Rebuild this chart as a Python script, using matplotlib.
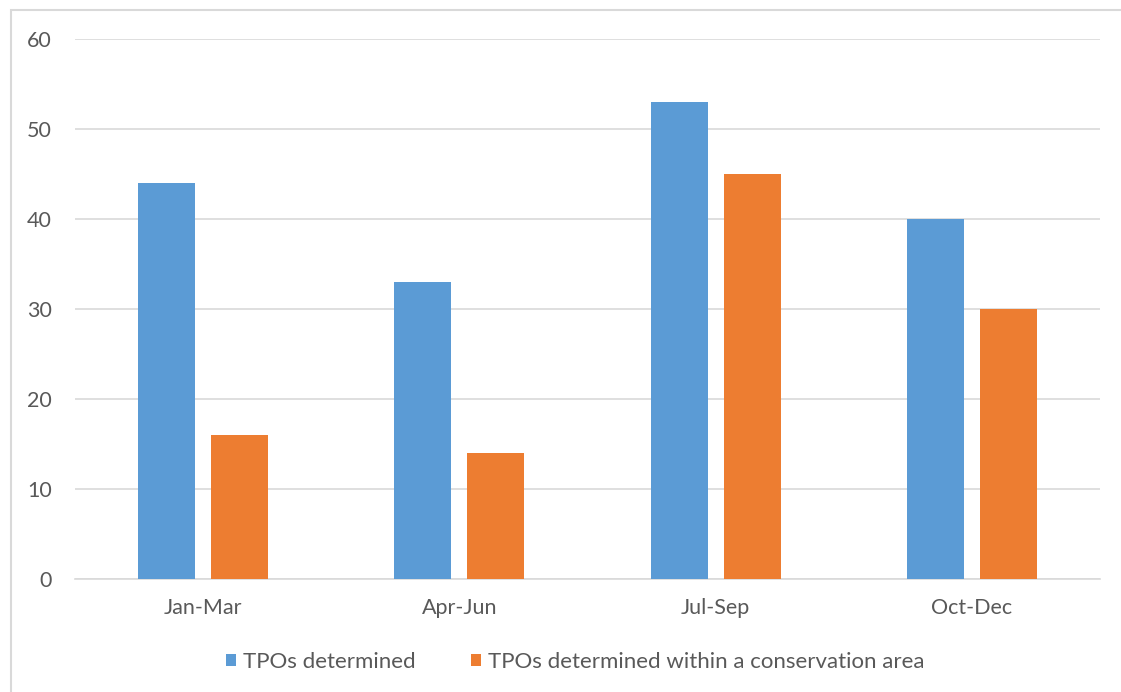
import matplotlib
matplotlib.use("Agg")
import matplotlib.pyplot as plt
from matplotlib.patches import Rectangle
import numpy as np

quarters = ["Jan-Mar", "Apr-Jun", "Jul-Sep", "Oct-Dec"]
tpos_determined = [44, 33, 53, 40]
tpos_conservation = [16, 14, 45, 30]
series_names = ["TPOs determined", "TPOs determined within a conservation area"]
y_ticks = [0, 10, 20, 30, 40, 50, 60]

BLUE = "#5B9BD5"
ORANGE = "#ED7D31"
TEXT = "#595959"
GRID = "#D9D9D9"

plt.rcParams["font.family"] = ["Lato", "DejaVu Sans"]

W, H = 1121, 692
fig = plt.figure(figsize=(W / 100, H / 100), dpi=100)
fig.patch.set_facecolor("white")

# outer chart frame
fig.patches.append(Rectangle((11 / W, -0.05), 1.1, 1 - 9.5 / H + 0.05,
                             transform=fig.transFigure, fill=False,
                             edgecolor=GRID, linewidth=1.5))

ax = fig.add_axes([75 / W, 1 - 579 / H, (1100 - 75) / W, (579 - 39) / H])

x = np.arange(len(quarters))
bw = 0.222
gap = 0.0625
ax.bar(x - (bw + gap) / 2, tpos_determined, bw, color=BLUE, label=series_names[0], zorder=3)
ax.bar(x + (bw + gap) / 2, tpos_conservation, bw, color=ORANGE, label=series_names[1], zorder=3)

ax.set_xlim(-0.5, len(quarters) - 0.5)
ax.set_ylim(0, 60)
ax.set_yticks(y_ticks)
ax.set_xticks(x)
ax.set_xticklabels(quarters)
ax.yaxis.grid(True, color=GRID, linewidth=1.2, zorder=0)
ax.set_axisbelow(True)
for s in ["top", "right", "left"]:
    ax.spines[s].set_visible(False)
ax.spines["bottom"].set_color(GRID)
ax.spines["bottom"].set_linewidth(1.2)
ax.tick_params(axis="both", length=0, labelsize=15.5, colors=TEXT)
ax.tick_params(axis="y", pad=16.5)
ax.tick_params(axis="x", pad=14)

leg = fig.legend(loc="center", bbox_to_anchor=(575 / W, 1 - 662 / H),
                 ncol=2, frameon=False, fontsize=16, handlelength=0.45, handleheight=0.45,
                 handletextpad=0.3, columnspacing=2.5, labelcolor=TEXT)

fig.savefig("out.png", dpi=100, facecolor="white")
